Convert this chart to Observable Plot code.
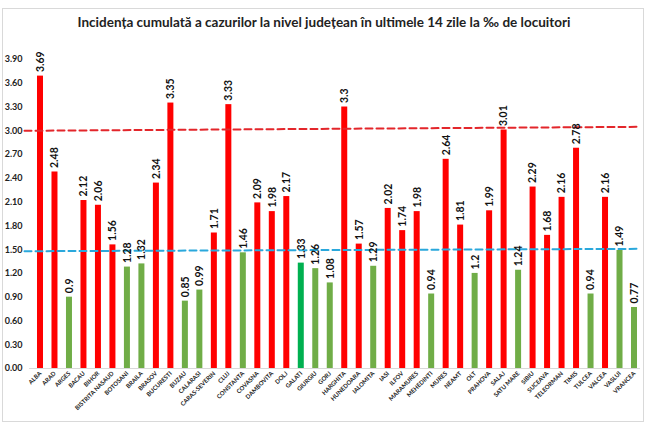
<!DOCTYPE html>
<html>
<head>
<meta charset="utf-8">
<script src="https://cdn.jsdelivr.net/npm/d3@7"></script>
<script src="https://cdn.jsdelivr.net/npm/@observablehq/plot@0.6"></script>
<style>
  html, body { margin: 0; padding: 0; background: #fff; }
  body { width: 648px; height: 427px; position: relative; overflow: hidden; font-family: Lato, sans-serif; }
  #box { position: absolute; left: 2px; top: 8px; width: 642px; height: 414px; border: 1px solid #d9d9d9; box-sizing: border-box; }
  #title { position: absolute; left: 0; width: 648px; top: 14px; text-align: center; font-weight: bold; font-size: 13.5px; color: #222; white-space: nowrap; }
  #chart { position: absolute; left: 0; top: 30px; }
</style>
</head>
<body>
<div id="box"></div>
<div id="title">Incidența cumulată a cazurilor la nivel județean în ultimele 14 zile la ‰ de locuitori</div>
<div id="chart"></div>
<script>
const counties = ["ALBA","ARAD","ARGES","BACAU","BIHOR","BISTRITA NASAUD","BOTOSANI","BRAILA","BRASOV","BUCURESTI","BUZAU","CALARASI","CARAS-SEVERIN","CLUJ","CONSTANTA","COVASNA","DAMBOVITA","DOLJ","GALATI","GIURGIU","GORJ","HARGHITA","HUNEDOARA","IALOMITA","IASI","ILFOV","MARAMURES","MEHEDINTI","MURES","NEAMT","OLT","PRAHOVA","SALAJ","SATU MARE","SIBIU","SUCEAVA","TELEORMAN","TIMIS","TULCEA","VALCEA","VASLUI","VRANCEA"];
const incidence = [3.69,2.48,0.9,2.12,2.06,1.56,1.28,1.32,2.34,3.35,0.85,0.99,1.71,3.33,1.46,2.09,1.98,2.17,1.33,1.26,1.08,3.3,1.57,1.29,2.02,1.74,1.98,0.94,2.64,1.81,1.2,1.99,3.01,1.24,2.29,1.68,2.16,2.78,0.94,2.16,1.49,0.77];
const yTicks = [0,0.3,0.6,0.9,1.2,1.5,1.8,2.1,2.4,2.7,3.0,3.3,3.6,3.9];
const threshold = 1.5;
const highlighted = "GALATI";
// hand-drawn reference lines (left end, right end)
const redLine = [3.00, 3.05];
const blueLine = [1.48, 1.51];

const data = counties.map((name, i) => ({i, name, v: incidence[i]}));
const half = 0.207;
const xLo = -1.104, xHi = 41.759;
const lineX = [-1.104, 41.41];

const colorOf = d => d.name === highlighted ? "#00b050" : (d.v >= threshold ? "#ff0000" : "#70ad47");

const chart = Plot.plot({
  width: 648,
  height: 390,
  marginLeft: 24,
  marginRight: 3,
  marginTop: 5.2,
  marginBottom: 52,
  style: {fontFamily: "Lato, sans-serif", background: "transparent"},
  x: {type: "linear", domain: [xLo, xHi], axis: null},
  y: {domain: [0, 4.2], axis: null},
  marks: [
    Plot.ruleY([0], {x1: -0.75, x2: 41.41, stroke: "#d9d9d9", strokeWidth: 1}),
    Plot.rect(data, {x1: d => d.i - half, x2: d => d.i + half, y1: 0, y2: "v", fill: colorOf}),
    Plot.line(lineX.map((x, k) => ({x, y: redLine[k]})), {x: "x", y: "y", stroke: "#e3262b", strokeWidth: 2, strokeDasharray: "7,4"}),
    Plot.line(lineX.map((x, k) => ({x, y: blueLine[k]})), {x: "x", y: "y", stroke: "#2aa8dc", strokeWidth: 2, strokeDasharray: "7,4"}),
    Plot.text(data, {x: "i", y: "v", text: d => String(d.v), rotate: -90, textAnchor: "start", lineAnchor: "middle", dy: -4, fontSize: 10.5, fontWeight: "bold", fill: "#111"}),
    Plot.axisY({ticks: yTicks, tickFormat: d => d.toFixed(2), tickSize: 0, tickPadding: 2, fontSize: 9, fontWeight: "bold", color: "#222"}),
    Plot.axisX({ticks: d3.range(counties.length), tickFormat: i => counties[i], tickRotate: -45, tickSize: 0, tickPadding: 4, fontSize: 6, fontWeight: "bold", color: "#222"})
  ]
});
document.getElementById("chart").appendChild(chart);
</script>
</body>
</html>
